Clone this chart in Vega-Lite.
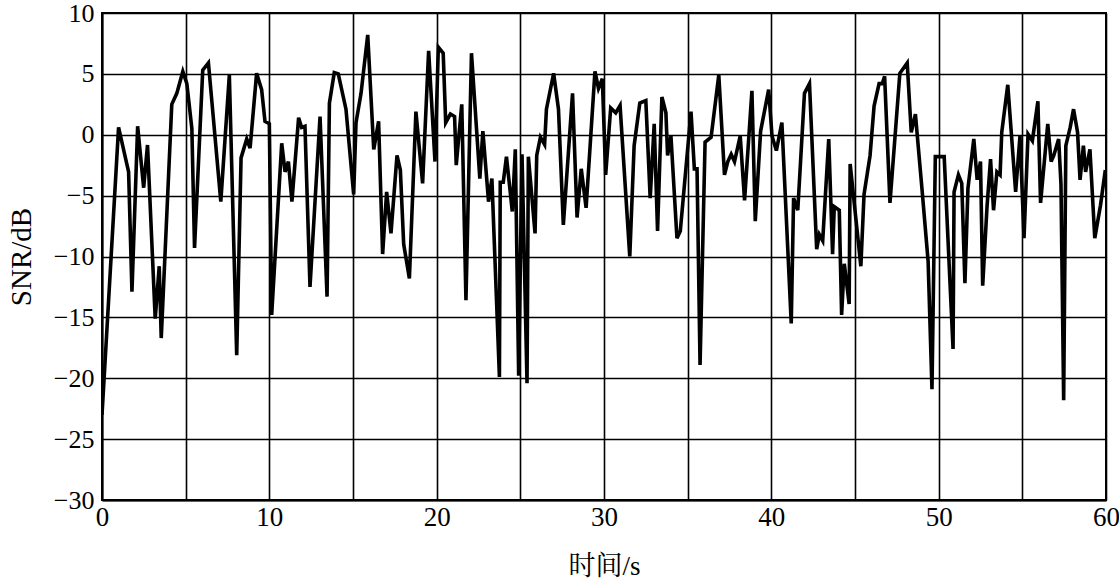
{
  "$schema": "https://vega.github.io/schema/vega-lite/v6.json",
  "width": 1004,
  "height": 487,
  "autosize": {"type": "none"},
  "padding": {"left": 102, "top": 13, "right": 13, "bottom": 87},
  "background": "white",
  "config": {
    "view": {"stroke": "black", "strokeWidth": 2},
    "axis": {
      "domainColor": "black",
      "domainWidth": 2,
      "gridColor": "black",
      "gridWidth": 1.6,
      "gridOpacity": 1,
      "ticks": false,
      "labelFont": "Liberation Serif",
      "labelFontSize": 27,
      "labelColor": "black",
      "titleColor": "black",
      "titleFontWeight": "normal"
    }
  },
  "data": {
    "values": [
      {"t": 0, "snr": -23}, {"t": 0.99, "snr": 0.6}, {"t": 1.59, "snr": -3.05}, {"t": 1.79, "snr": -12.9},
      {"t": 2.13, "snr": 0.7}, {"t": 2.49, "snr": -4.35}, {"t": 2.72, "snr": -0.84}, {"t": 3.18, "snr": -15.1},
      {"t": 3.42, "snr": -10.8}, {"t": 3.54, "snr": -16.7}, {"t": 4.17, "snr": 2.5}, {"t": 4.47, "snr": 3.4},
      {"t": 4.83, "snr": 5.2}, {"t": 5.07, "snr": 4.2}, {"t": 5.37, "snr": 0.5}, {"t": 5.53, "snr": -9.3},
      {"t": 6.02, "snr": 5.3}, {"t": 6.36, "snr": 5.9}, {"t": 7.1, "snr": -5.5}, {"t": 7.61, "snr": 4.9},
      {"t": 8.05, "snr": -18.1}, {"t": 8.31, "snr": -1.9}, {"t": 8.65, "snr": -0.35}, {"t": 8.85, "snr": -1.1},
      {"t": 9.24, "snr": 5.05}, {"t": 9.54, "snr": 3.7}, {"t": 9.74, "snr": 1.1}, {"t": 10.0, "snr": 0.9},
      {"t": 10.14, "snr": -14.8}, {"t": 10.74, "snr": -0.7}, {"t": 10.94, "snr": -3.05}, {"t": 11.14, "snr": -2.2},
      {"t": 11.35, "snr": -5.5}, {"t": 11.75, "snr": 1.4}, {"t": 11.93, "snr": 0.6}, {"t": 12.13, "snr": 0.7},
      {"t": 12.43, "snr": -12.5}, {"t": 13.03, "snr": 1.5}, {"t": 13.45, "snr": -13.3}, {"t": 13.59, "snr": 2.6},
      {"t": 13.88, "snr": 5.1}, {"t": 14.12, "snr": 5.0}, {"t": 14.58, "snr": 2.1}, {"t": 15.04, "snr": -4.9},
      {"t": 15.18, "snr": 1.0}, {"t": 15.48, "snr": 3.4}, {"t": 15.88, "snr": 8.2}, {"t": 16.24, "snr": -1.2},
      {"t": 16.53, "snr": 1.1}, {"t": 16.77, "snr": -9.8}, {"t": 17.01, "snr": -4.7}, {"t": 17.27, "snr": -8.1},
      {"t": 17.63, "snr": -1.7}, {"t": 17.83, "snr": -2.9}, {"t": 18.03, "snr": -9.0}, {"t": 18.37, "snr": -11.8},
      {"t": 18.76, "snr": 1.9}, {"t": 19.16, "snr": -4.0}, {"t": 19.52, "snr": 6.9}, {"t": 19.9, "snr": -2.2},
      {"t": 20.1, "snr": 7.2}, {"t": 20.39, "snr": 6.7}, {"t": 20.54, "snr": 1.0}, {"t": 20.82, "snr": 1.7},
      {"t": 21.07, "snr": 1.5}, {"t": 21.17, "snr": -2.5}, {"t": 21.5, "snr": 2.5}, {"t": 21.75, "snr": -13.6},
      {"t": 22.08, "snr": 6.7}, {"t": 22.58, "snr": -3.6}, {"t": 22.76, "snr": 0.3}, {"t": 23.1, "snr": -5.5},
      {"t": 23.3, "snr": -3.6}, {"t": 23.75, "snr": -19.9}, {"t": 23.8, "snr": -3.9}, {"t": 23.98, "snr": -3.9},
      {"t": 24.17, "snr": -1.8}, {"t": 24.52, "snr": -6.3}, {"t": 24.7, "snr": -1.2}, {"t": 24.9, "snr": -19.8},
      {"t": 25.1, "snr": -1.6}, {"t": 25.4, "snr": -20.4}, {"t": 25.48, "snr": -1.8}, {"t": 25.88, "snr": -8.1},
      {"t": 25.98, "snr": -1.7}, {"t": 26.2, "snr": -0.2}, {"t": 26.45, "snr": -0.8}, {"t": 26.56, "snr": 2.1},
      {"t": 26.99, "snr": 5.05}, {"t": 27.28, "snr": 2.1}, {"t": 27.57, "snr": -7.4}, {"t": 28.12, "snr": 3.4},
      {"t": 28.39, "snr": -6.8}, {"t": 28.64, "snr": -2.8}, {"t": 28.93, "snr": -6.0}, {"t": 29.46, "snr": 5.2},
      {"t": 29.67, "snr": 3.8}, {"t": 29.9, "snr": 4.6}, {"t": 30.1, "snr": -3.3}, {"t": 30.4, "snr": 2.2},
      {"t": 30.7, "snr": 1.8}, {"t": 30.96, "snr": 2.4}, {"t": 31.54, "snr": -10.0}, {"t": 31.8, "snr": -0.9},
      {"t": 32.14, "snr": 2.6}, {"t": 32.5, "snr": 2.8}, {"t": 32.76, "snr": -5.2}, {"t": 33.0, "snr": 0.9},
      {"t": 33.2, "snr": -7.9}, {"t": 33.46, "snr": 3.1}, {"t": 33.7, "snr": 1.8}, {"t": 33.8, "snr": -1.7},
      {"t": 34.0, "snr": -0.1}, {"t": 34.36, "snr": -8.5}, {"t": 34.56, "snr": -7.9}, {"t": 35.2, "snr": 1.9},
      {"t": 35.4, "snr": -2.8}, {"t": 35.56, "snr": -2.8}, {"t": 35.74, "snr": -18.9}, {"t": 36.04, "snr": -0.6},
      {"t": 36.4, "snr": -0.2}, {"t": 36.86, "snr": 4.9}, {"t": 37.2, "snr": -3.3}, {"t": 37.4, "snr": -2.2},
      {"t": 37.6, "snr": -1.6}, {"t": 37.8, "snr": -2.2}, {"t": 38.14, "snr": -0.1}, {"t": 38.4, "snr": -5.4},
      {"t": 38.84, "snr": 3.6}, {"t": 39.04, "snr": -7.1}, {"t": 39.36, "snr": 0.3}, {"t": 39.84, "snr": 3.7},
      {"t": 40.04, "snr": -0.1}, {"t": 40.3, "snr": -1.3}, {"t": 40.63, "snr": 1.0}, {"t": 41.19, "snr": -15.5},
      {"t": 41.33, "snr": -5.2}, {"t": 41.58, "snr": -6.2}, {"t": 41.98, "snr": 3.4}, {"t": 42.28, "snr": 4.2},
      {"t": 42.71, "snr": -9.4}, {"t": 42.87, "snr": -8.2}, {"t": 43.07, "snr": -8.7}, {"t": 43.43, "snr": -0.35},
      {"t": 43.66, "snr": -9.8}, {"t": 43.76, "snr": -5.9}, {"t": 44.06, "snr": -6.2}, {"t": 44.2, "snr": -14.8},
      {"t": 44.36, "snr": -10.6}, {"t": 44.65, "snr": -13.9}, {"t": 44.71, "snr": -2.4}, {"t": 45.35, "snr": -10.8},
      {"t": 45.54, "snr": -4.9}, {"t": 45.9, "snr": -1.7}, {"t": 46.14, "snr": 2.35}, {"t": 46.44, "snr": 4.2},
      {"t": 46.63, "snr": 4.2}, {"t": 46.77, "snr": 4.8}, {"t": 47.09, "snr": -5.6}, {"t": 47.68, "snr": 5.05},
      {"t": 48.12, "snr": 5.9}, {"t": 48.36, "snr": 0.2}, {"t": 48.61, "snr": 1.7}, {"t": 49.0, "snr": -4.4},
      {"t": 49.37, "snr": -10.4}, {"t": 49.6, "snr": -20.9}, {"t": 49.8, "snr": -1.8}, {"t": 50.33, "snr": -1.8},
      {"t": 50.86, "snr": -17.6}, {"t": 50.92, "snr": -4.7}, {"t": 51.18, "snr": -3.3}, {"t": 51.38, "snr": -4.0},
      {"t": 51.57, "snr": -12.2}, {"t": 51.75, "snr": -4.4}, {"t": 52.1, "snr": -0.35}, {"t": 52.3, "snr": -3.7},
      {"t": 52.5, "snr": -2.2}, {"t": 52.63, "snr": -12.4}, {"t": 52.89, "snr": -5.9}, {"t": 53.1, "snr": -2.0},
      {"t": 53.28, "snr": -6.2}, {"t": 53.48, "snr": -3.05}, {"t": 53.67, "snr": -3.3}, {"t": 53.77, "snr": 0.2},
      {"t": 54.13, "snr": 4.1}, {"t": 54.6, "snr": -4.7}, {"t": 54.86, "snr": -0.1}, {"t": 55.1, "snr": -8.5},
      {"t": 55.34, "snr": 0.05}, {"t": 55.6, "snr": -0.5}, {"t": 55.93, "snr": 2.75}, {"t": 56.09, "snr": -5.6},
      {"t": 56.52, "snr": 0.9}, {"t": 56.72, "snr": -2.2}, {"t": 56.88, "snr": -1.7}, {"t": 57.17, "snr": -0.35},
      {"t": 57.31, "snr": -4.1}, {"t": 57.47, "snr": -21.8}, {"t": 57.6, "snr": -0.9}, {"t": 57.86, "snr": 0.6},
      {"t": 58.06, "snr": 2.1}, {"t": 58.3, "snr": 0.2}, {"t": 58.45, "snr": -3.7}, {"t": 58.65, "snr": -0.9},
      {"t": 58.78, "snr": -3.05}, {"t": 59.04, "snr": -1.2}, {"t": 59.33, "snr": -8.5}, {"t": 59.67, "snr": -5.8},
      {"t": 59.96, "snr": -2.9}
    ]
  },
  "mark": {"type": "line", "color": "black", "strokeWidth": 3.6, "interpolate": "linear", "clip": true},
  "encoding": {
    "x": {
      "field": "t",
      "type": "quantitative",
      "scale": {"domain": [0, 60], "nice": false, "zero": false},
      "axis": {
        "title": "时间/s",
        "titleFont": "Liberation Serif, Noto Serif CJK SC, Noto Sans CJK SC",
        "titleFontSize": 27,
        "titlePadding": 23,
        "values": [0, 5, 10, 15, 20, 25, 30, 35, 40, 45, 50, 55, 60],
        "labelExpr": "datum.value % 10 === 0 ? datum.label : ''",
        "labelPadding": 4,
        "labelFlush": false,
        "labelOverlap": false
      }
    },
    "y": {
      "field": "snr",
      "type": "quantitative",
      "scale": {"domain": [-30, 10], "nice": false},
      "axis": {
        "title": "SNR/dB",
        "titleFont": "Liberation Serif",
        "titleFontSize": 29,
        "titlePadding": 17,
        "labelFontSize": 26,
        "values": [-30, -25, -20, -15, -10, -5, 0, 5, 10],
        "labelPadding": 8,
        "labelOverlap": false,
        "labelFlush": false
      }
    }
  }
}
